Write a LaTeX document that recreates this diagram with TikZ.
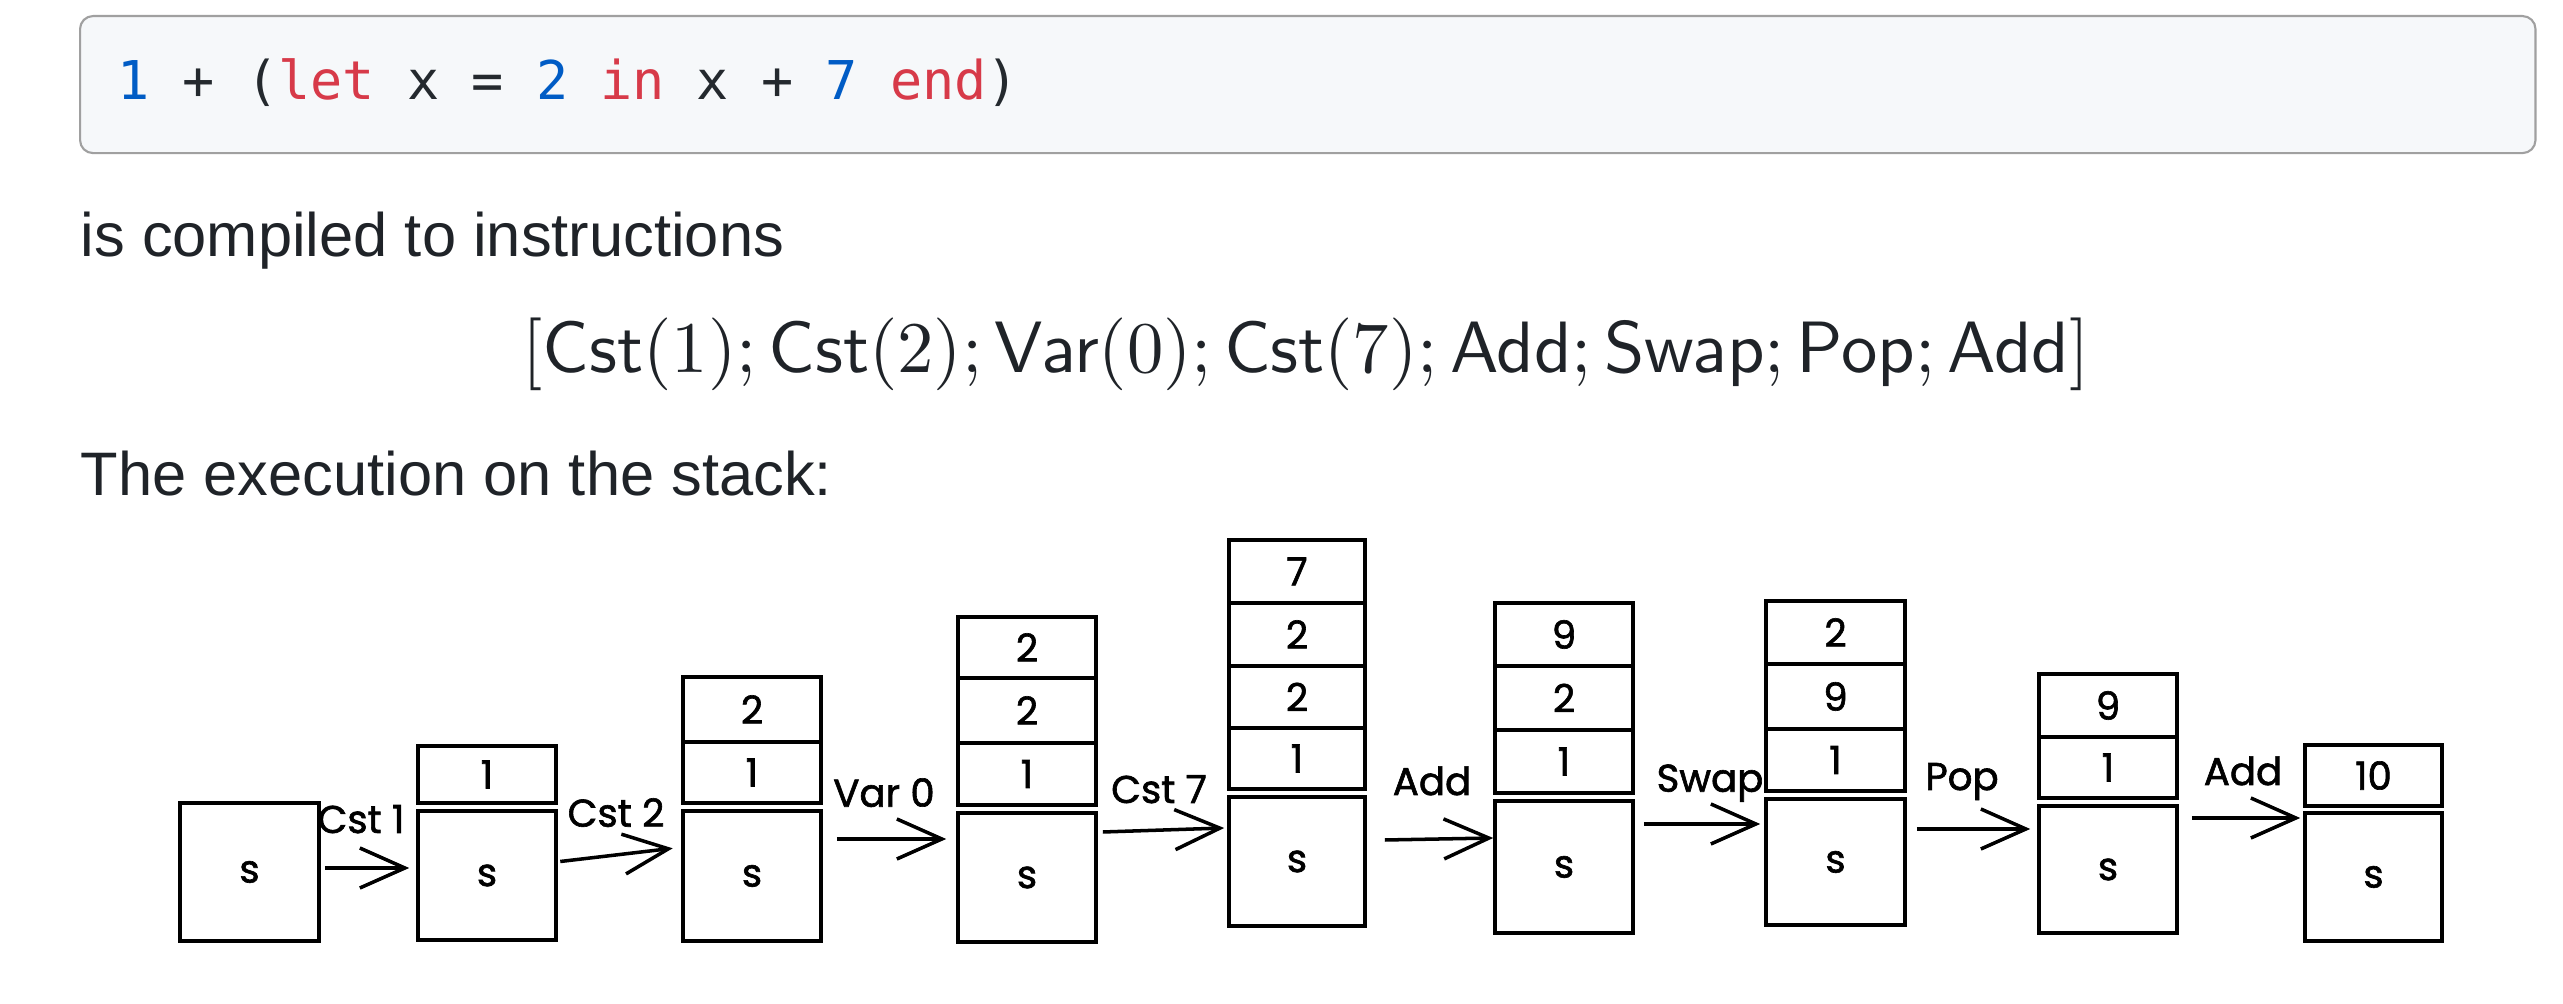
\documentclass[tikz,border=0pt]{standalone}
\usepackage{fontspec}
\usepackage{graphicx}
\usetikzlibrary{arrows.meta,calc}
\newfontfamily\codefont{DejaVu Sans Mono}
\newfontfamily\uifont{Liberation Sans}
\newfontfamily\handfont{Poppins}[FakeBold=1.6]
\definecolor{textdark}{RGB}{31,35,40}
\definecolor{codefill}{HTML}{F6F8FA}
\definecolor{codeborder}{RGB}{160,160,160}
\definecolor{cblue}{HTML}{005CC5}
\definecolor{cred}{HTML}{D73A49}
\definecolor{cdark}{HTML}{24292E}
\tikzset{
  cellbox/.style={draw=black, line width=1pt, minimum width=1.38cm, inner sep=0pt,
    font=\handfont\fontsize{11}{13}\selectfont},
  arr/.style={line width=1pt, -{Straight Barb[length=0.45cm,width=0.4cm]}},
  steplabel/.style={anchor=base, inner sep=0pt, font=\handfont\fontsize{11}{13}\selectfont},
  prose/.style={anchor=base west, inner sep=0pt, text=textdark,
    font=\uifont\fontsize{17.47}{21}\selectfont},
}
\begin{document}
\begin{tikzpicture}[x=0.01cm,y=-0.01cm]
\useasboundingbox (0,0) rectangle (2563,1004);
% code block
\node[anchor=north west, fill=codefill, draw=codeborder, line width=0.6pt,
  rounded corners=0.13cm, minimum width=24.54cm, minimum height=1.37cm] (codebox) at (79,15) {};
\node[anchor=base west, inner sep=0pt, text=cdark,
  font=\codefont\fontsize{15.2}{18}\selectfont] (codetext) at (117,100)
  {\textcolor{cblue}{1} + (\textcolor{cred}{let} x = \textcolor{cblue}{2} \textcolor{cred}{in} x + \textcolor{cblue}{7} \textcolor{cred}{end})};
% prose
\node[prose] (t1) at (80,257) {is compiled to instructions};
\node[anchor=base west, inner sep=0pt, text=textdark] (instr) at (522,373)
  {\resizebox{15.66cm}{!}{$[\textsf{Cst}(1); \textsf{Cst}(2); \textsf{Var}(0); \textsf{Cst}(7); \textsf{Add}; \textsf{Swap}; \textsf{Pop}; \textsf{Add}]$}};
\node[prose] (t2) at (80,496) {The execution on the stack:};
% stack 0
\node[cellbox, minimum width=1.39cm, minimum height=1.38cm] (s0) at (249.5,872) {s};
% stack 1
\node[cellbox, minimum height=0.57cm] (c1a) at (487,774.5) {1};
\node[cellbox, minimum height=1.29cm] (s1) at (487,875.5) {s};
% stack 2
\node[cellbox, minimum height=0.65cm] (c2b) at (752,709.5) {2};
\node[cellbox, minimum height=0.61cm] (c2a) at (752,772.5) {1};
\node[cellbox, minimum height=1.30cm] (s2) at (752,876) {s};
% stack 3
\node[cellbox, minimum height=0.61cm] (c3c) at (1027,647.5) {2};
\node[cellbox, minimum height=0.65cm] (c3b) at (1027,710.5) {2};
\node[cellbox, minimum height=0.62cm] (c3a) at (1027,774) {1};
\node[cellbox, minimum height=1.29cm] (s3) at (1027,877.5) {s};
% stack 4
\node[cellbox, minimum width=1.36cm, minimum height=0.63cm] (c4d) at (1297,571.5) {7};
\node[cellbox, minimum width=1.36cm, minimum height=0.63cm] (c4c) at (1297,634.5) {2};
\node[cellbox, minimum width=1.36cm, minimum height=0.62cm] (c4b) at (1297,697) {2};
\node[cellbox, minimum width=1.36cm, minimum height=0.61cm] (c4a) at (1297,758.5) {1};
\node[cellbox, minimum width=1.36cm, minimum height=1.29cm] (s4) at (1297,861.5) {s};
% stack 5
\node[cellbox, minimum height=0.63cm] (c5c) at (1564,634.5) {9};
\node[cellbox, minimum height=0.64cm] (c5b) at (1564,698) {2};
\node[cellbox, minimum height=0.63cm] (c5a) at (1564,761.5) {1};
\node[cellbox, minimum height=1.32cm] (s5) at (1564,867) {s};
% stack 6
\node[cellbox, minimum width=1.39cm, minimum height=0.63cm] (c6c) at (1835.5,632.5) {2};
\node[cellbox, minimum width=1.39cm, minimum height=0.65cm] (c6b) at (1835.5,696.5) {9};
\node[cellbox, minimum width=1.39cm, minimum height=0.62cm] (c6a) at (1835.5,760) {1};
\node[cellbox, minimum width=1.39cm, minimum height=1.26cm] (s6) at (1835.5,862) {s};
% stack 7
\node[cellbox, minimum height=0.63cm] (c7b) at (2108,705.5) {9};
\node[cellbox, minimum height=0.61cm] (c7a) at (2108,767.5) {1};
\node[cellbox, minimum height=1.27cm] (s7) at (2108,869.5) {s};
% stack 8
\node[cellbox, minimum width=1.37cm, minimum height=0.61cm] (c8a) at (2373.5,775.5) {10};
\node[cellbox, minimum width=1.37cm, minimum height=1.28cm] (s8) at (2373.5,877) {s};
% transitions
\draw[arr] ([shift={(4,-4)}]s0.east) -- ([shift={(-7,-7.5)}]s1.west);
\draw[arr] ([shift={(2.5,-14)}]s1.east) -- ([shift={(-8.5,-27.7)}]s2.west);
\draw[arr] ([shift={(14,-37)}]s2.east) -- ([shift={(-10,-38.5)}]s3.west);
\draw[arr] ([shift={(5,-45.5)}]s3.east) -- ([shift={(-3,-33.5)}]s4.west);
\draw[arr] ([shift={(18,-21.5)}]s4.east) -- ([shift={(0,-29)}]s5.west);
\draw[arr] ([shift={(9,-43)}]s5.east) -- ([shift={(-4,-38)}]s6.west);
\draw[arr] ([shift={(10,-33)}]s6.east) -- ([shift={(-7,-40.5)}]s7.west);
\draw[arr] ([shift={(13,-51.5)}]s7.east) -- ([shift={(-3,-59)}]s8.west);
% transition labels
\node[steplabel] (l1) at (361,833) {Cst 1};
\node[steplabel] (l2) at (616,826.7) {Cst 2};
\node[steplabel] (l3) at (884,806.7) {Var 0};
\node[steplabel] (l4) at (1159,803) {Cst 7};
\node[steplabel] (l5) at (1432,795) {Add};
\node[steplabel] (l6) at (1710,791.7) {Swap};
\node[steplabel] (l7) at (1962,790) {Pop};
\node[steplabel] (l8) at (2243,785) {Add};
\end{tikzpicture}
\end{document}
